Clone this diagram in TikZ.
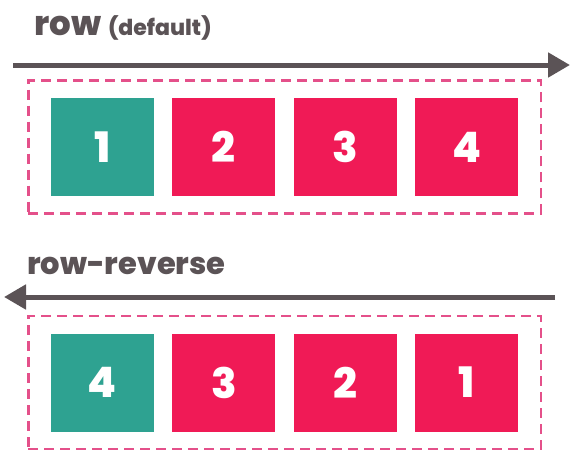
\documentclass[tikz,border=0pt]{standalone}
\usepackage{fontspec}
\setmainfont{Poppins}[BoldFont={Poppins ExtraBold}]
\usetikzlibrary{positioning,fit,arrows.meta}
\definecolor{itemteal}{HTML}{2EA291}
\definecolor{itempink}{HTML}{F01A56}
\definecolor{boxpink}{HTML}{E4508A}
\definecolor{axisgray}{HTML}{5B5356}

\begin{document}
\begin{tikzpicture}[x=1pt,y=-1pt,node distance=18pt]
\tikzstyle{item node}=[rectangle,fill=itempink,minimum width=103pt,minimum height=98pt,inner sep=0,text=white,font=\fontsize{42}{44}\selectfont\bfseries]
\tikzstyle{first node}=[item node,fill=itemteal]
\tikzstyle{box node}=[rectangle,draw=boxpink,line width=2.5pt,dash pattern=on 10pt off 6pt,inner xsep=22.5pt,inner ysep=17.5pt]
\tikzstyle{label node}=[text=axisgray,anchor=base west,inner sep=0,font=\bfseries]

\tikzset{
	axis line/.style={draw=axisgray,line width=5pt,-{Triangle[length=22pt,width=24pt]}}
}

      \useasboundingbox (0,0) rectangle (584,466);

      % row
      \node[label node] (rowlabel) at (34,35) {\fontsize{34}{38}\selectfont row\hspace{7pt}\fontsize{22}{25}\selectfont(default)};
      \coordinate (rowstart) at (13,65);
      \coordinate (rowend) at (570,65);
      \node[first node] (a1) at (102.5,147) {1};
      \node[item node] (a2) [right=of a1] {2};
      \node[item node] (a3) [right=of a2] {3};
      \node[item node] (a4) [right=of a3] {4};
      \node[box node,fit=(a1)(a4)] (rowbox) {};

      % row-reverse
      \node[label node] (revlabel) at (27,274) {\fontsize{30.5}{33}\selectfont row-reverse};
      \coordinate (revstart) at (555,297);
      \coordinate (revend) at (4,297);
      \node[first node] (b1) at (102.5,382.5) {4};
      \node[item node] (b2) [right=of b1] {3};
      \node[item node] (b3) [right=of b2] {2};
      \node[item node] (b4) [right=of b3] {1};
      \node[box node,fit=(b1)(b4)] (revbox) {};

      \draw[axis line] (rowstart) -- (rowend);
      \draw[axis line] (revstart) -- (revend);
\end{tikzpicture}
\end{document}
